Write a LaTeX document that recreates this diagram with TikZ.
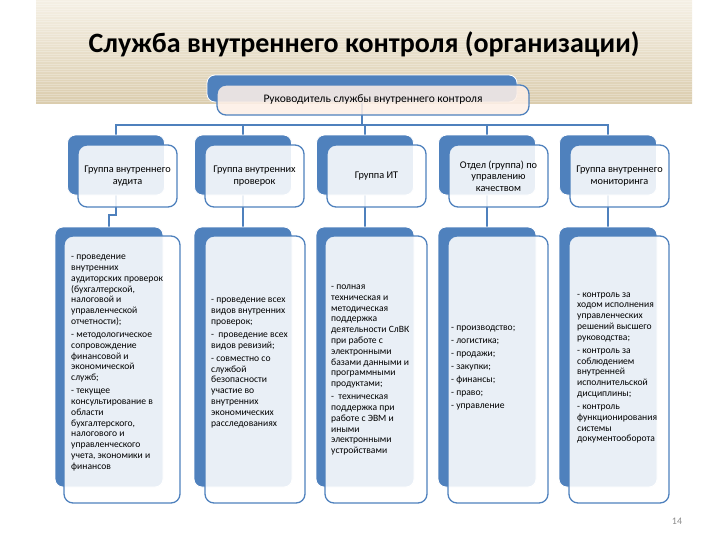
\documentclass[tikz,border=0pt]{standalone}
\usepackage{fontspec}
\setmainfont{Carlito}
\usetikzlibrary{calc}
\definecolor{sblue}{HTML}{4F81BD}
\definecolor{bandtop}{HTML}{F5F0E5}
\definecolor{bandbot}{HTML}{DBCDAE}
\definecolor{peach}{HTML}{FDEFE6}
\definecolor{txt}{HTML}{000000}
\definecolor{pgray}{HTML}{8C8C8C}
\pgfdeclarelayer{back}
\pgfdeclarelayer{bg}
\pgfsetlayers{back,bg,main}
\begin{document}
\begin{tikzpicture}[x=1pt,y=-1pt,
  backbox/.style={draw=white, line width=0.8pt, fill=sblue, rounded corners=8pt, inner sep=0pt},
  frontbox/.style={draw=sblue, line width=1.3pt, fill=white, fill opacity=0.88, text opacity=1,
    rounded corners=9pt, inner sep=2pt, align=center, text=txt, font=\fontsize{10.3}{11.3}\selectfont},
  topfront/.style={frontbox, fill=peach, font=\fontsize{11.5}{13}\selectfont},
  hdrback/.style={backbox, minimum width=97pt, minimum height=60pt},
  hdrfront/.style={frontbox, minimum width=99pt, minimum height=62pt},
  detback/.style={backbox, minimum height=260pt},
  detfront/.style={frontbox, minimum height=267pt},
  dettext/.style={anchor=west, align=left, inner sep=0pt, text=txt, font=\fontsize{9.6}{10.8}\selectfont},
  conn/.style={draw=sblue, line width=1.8pt}
]
\useasboundingbox (0,0) rectangle (728,546);
\begin{pgfonlayer}{back}
  \shade[top color=bandtop, bottom color=bandbot] (36,0) rectangle (692,103);
  \foreach \yy in {1.5,4,...,102} \draw[white, opacity=0.25, line width=0.9pt] (36,\yy) -- (692,\yy);
\end{pgfonlayer}

\node[font=\bfseries\fontsize{28}{32}\selectfont, text=txt] (title) at (364,44) {Служба внутреннего контроля (организации)};

% top box
\node[backbox, minimum width=310pt, minimum height=27pt] (tb) at (362,88.5) {};
\node[topfront, minimum width=312pt, minimum height=30pt] (tf) at (373,100) {Руководитель службы внутреннего контроля};

% header boxes
\node[hdrback] (hb1) at (116,165) {};
\node[hdrback] (hb2) at (243,165) {};
\node[hdrback] (hb3) at (365,165) {};
\node[hdrback] (hb4) at (487,165) {};
\node[hdrback] (hb5) at (608,165) {};
\node[hdrfront] (hf1) at (127.5,176) {Группа внутреннего\\аудита};
\node[hdrfront] (hf2) at (254.5,176) {Группа внутренних\\проверок};
\node[hdrfront] (hf3) at (376.5,176) {Группа ИТ};
\node[hdrfront] (hf4) at (498.5,176) {Отдел (группа) по\\управлению\\качеством};
\node[hdrfront] (hf5) at (619.5,176) {Группа внутреннего\\мониторинга};

% detail boxes
\node[detback, minimum width=108pt] (db1) at (109,357) {};
\node[detback, minimum width=98pt] (db2) at (243,357) {};
\node[detback, minimum width=98pt] (db3) at (365,357) {};
\node[detback, minimum width=98pt] (db4) at (487,357) {};
\node[detback, minimum width=98pt] (db5) at (608,357) {};
\node[detfront, minimum width=116pt] (df1) at (122,369.5) {};
\node[detfront, minimum width=100pt] (df2) at (255,369.5) {};
\node[detfront, minimum width=102pt] (df3) at (376,369.5) {};
\node[detfront, minimum width=100pt] (df4) at (498,369.5) {};
\node[detfront, minimum width=100pt] (df5) at (619,369.5) {};

\node[dettext] (t1) at (71,363) {- проведение\\внутренних\\аудиторских проверок\\(бухгалтерской,\\налоговой и\\управленческой\\отчетности);\\[2.2pt]- методологическое\\сопровождение\\финансовой и\\экономической\\служб;\\[2.2pt]- текущее\\консультирование в\\области\\бухгалтерского,\\налогового и\\управленческого\\учета, экономики и\\финансов};
\node[dettext] (t2) at (211,363) {- проведение всех\\видов внутренних\\проверок;\\[2.2pt]-\ \ проведение всех\\видов ревизий;\\[2.2pt]- совместно со\\службой\\безопасности\\участие во\\внутренних\\экономических\\расследованиях};
\node[dettext] (t3) at (331,370) {- полная\\техническая и\\методическая\\поддержка\\деятельности СлВК\\при работе с\\электронными\\базами данными и\\программными\\продуктами;\\[2.2pt]-\ \ техническая\\поддержка при\\работе с ЭВМ и\\иными\\электронными\\устройствами};
\node[dettext] (t4) at (451,368) {- производство;\\[2.2pt]- логистика;\\[2.2pt]- продажи;\\[2.2pt]- закупки;\\[2.2pt]- финансы;\\[2.2pt]- право;\\[2.2pt]- управление};
\node[dettext] (t5) at (577,368) {- контроль за\\ходом исполнения\\управленческих\\решений высшего\\руководства;\\[2.2pt]- контроль за\\соблюдением\\внутренней\\исполнительской\\дисциплины;\\[2.2pt]- контроль\\функционирования\\системы\\документооборота};

\node[font=\fontsize{10}{12}\selectfont, text=pgray] (pn) at (677,521) {14};

% connectors
\begin{pgfonlayer}{bg}
  \coordinate (hy) at (0,125);
  \coordinate (jy) at (0,215);
  \draw[conn] (tb.center) -- (tb.center |- hy);
  \draw[conn] (hb1.center) -- (hb1.center |- hy) -- (hb5.center |- hy) -- (hb5.center);
  \foreach \i in {2,3,4} \draw[conn] (hb\i.center |- hy) -- (hb\i.center);
  \draw[conn] (hb1.center) -- (hb1.center |- jy) -- (db1.center |- jy) -- (db1.center);
  \foreach \i in {2,3,4,5} \draw[conn] (hb\i.center) -- (db\i.center);
\end{pgfonlayer}
\end{tikzpicture}
\end{document}
